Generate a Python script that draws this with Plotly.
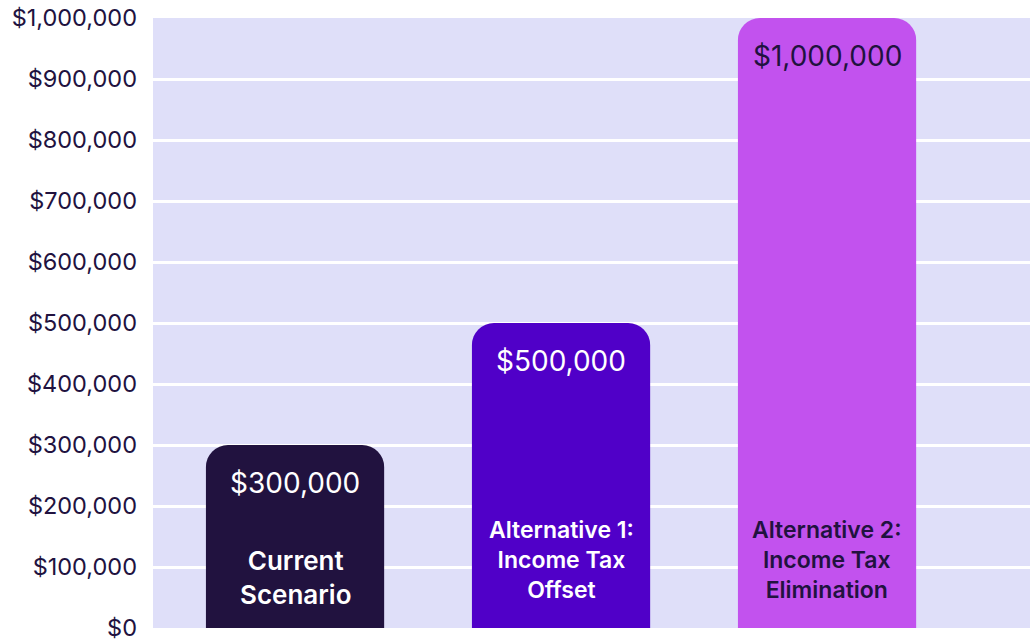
import plotly.graph_objects as go

categories = ["Current Scenario", "Alternative 1: Income Tax Offset", "Alternative 2: Income Tax Elimination"]
category_labels = ["Current<br>Scenario", "Alternative 1:<br>Income Tax<br>Offset", "Alternative 2:<br>Income Tax<br>Elimination"]
values = [300000, 500000, 1000000]
value_labels = ["$300,000", "$500,000", "$1,000,000"]
tick_values = [0, 100000, 200000, 300000, 400000, 500000, 600000, 700000, 800000, 900000, 1000000]
tick_labels = ["$0", "$100,000", "$200,000", "$300,000", "$400,000", "$500,000",
               "$600,000", "$700,000", "$800,000", "$900,000", "$1,000,000"]

bar_colors = ["#21123f", "#5000c8", "#c252ee"]
text_colors = ["#ffffff", "#ffffff", "#21123f"]
cat_sizes = [26, 23, 23]
cat_shift = [51, 68, 68]
FONT = "Inter"

fig = go.Figure()
fig.add_trace(go.Bar(
    x=categories, y=values, marker=dict(color=bar_colors, line=dict(width=0)),
    width=0.67, hoverinfo="skip",
))

for c, v, vl, tc in zip(categories, values, value_labels, text_colors):
    fig.add_annotation(x=c, y=v, text=vl, showarrow=False, yanchor="middle",
                       yshift=-38, font=dict(family=FONT, size=28, color=tc))
for c, cl, tc, s, sh in zip(categories, category_labels, text_colors, cat_sizes, cat_shift):
    fig.add_annotation(x=c, y=0, text=cl, showarrow=False, yanchor="middle",
                       yshift=sh, font=dict(family=FONT, size=s, color=tc, weight=600))

fig.update_layout(
    width=1030, height=639,
    margin=dict(l=153, r=0, t=18, b=11, autoexpand=False),
    paper_bgcolor="white", plot_bgcolor="#dfdff9",
    showlegend=False, barcornerradius=22,
    font=dict(family=FONT, color="#21123f"),
)
fig.update_xaxes(showticklabels=False, showgrid=False, zeroline=False,
                 range=[-0.534, 2.763], fixedrange=True, automargin=False)
fig.update_yaxes(range=[0, 1000000], tickvals=tick_values, ticktext=tick_labels,
                 showgrid=True, gridcolor="white", gridwidth=3, zeroline=False,
                 tickfont=dict(family=FONT, size=23.5, color="#21123f"),
                 ticklabelstandoff=15, ticklabeloverflow="allow", fixedrange=True,
                 automargin=False)

fig.write_html("out.html")
